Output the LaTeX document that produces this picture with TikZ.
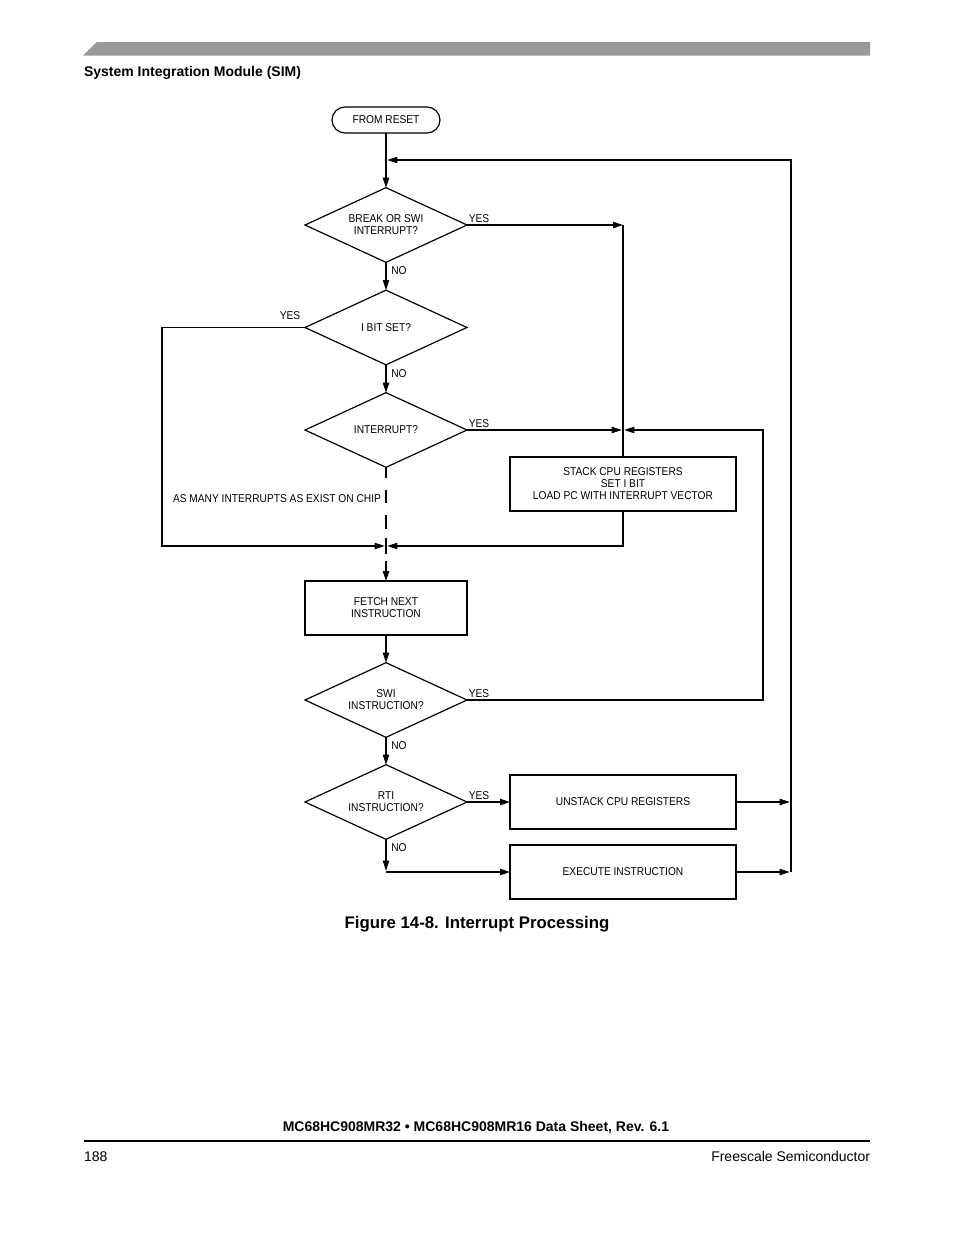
\documentclass[tikz,border=0pt]{standalone}
\usepackage{fontspec}
\setmainfont{Liberation Sans}
\newfontfamily\dfont[FakeStretch=0.9]{Liberation Sans}
\usetikzlibrary{shapes.geometric,arrows.meta}
\begin{document}
\begin{tikzpicture}[x=0.75pt,y=-0.75pt,
  every node/.style={inner sep=0pt,outer sep=0pt},
  dtext/.style={font={\fontsize{8.5pt}{9pt}\dfont},align=center},
  conn/.style={line width=0.8pt},
  arr/.style={conn,-{Triangle[length=7.5pt,width=4.8pt]}},
  dia/.style={diamond,aspect=2.16,draw,line width=0.9pt,minimum width=121.5pt,minimum height=56pt,dtext},
  box/.style={rectangle,draw,line width=1.1pt,dtext},
  lab/.style={dtext,anchor=base}
]
\fill[white] (0,0) rectangle (954,1235);
% header
\fill[black!40] (83,55.5) -- (97,42) -- (870,42) -- (870,55.5) -- cycle;
\node[anchor=base west,font={\bfseries\fontsize{10.5pt}{12pt}\selectfont}] (hdr) at (84,76) {System Integration Module (SIM)};
% footer
\node[anchor=base,font={\bfseries\fontsize{10.5pt}{12pt}\selectfont}] (ftitle) at (476,1131) {MC68HC908MR32 • MC68HC908MR16 Data Sheet, Rev. 6.1};
\draw[line width=1.5pt] (84,1141) -- (870,1141);
\node[anchor=base west,font={\fontsize{10.5pt}{12pt}\selectfont}] (page) at (84,1161) {188};
\node[anchor=base east,font={\fontsize{10.5pt}{12pt}\selectfont}] (comp) at (870,1161) {Freescale Semiconductor};
% caption
\node[anchor=base,font={\bfseries\fontsize{12.6pt}{14pt}\selectfont}] (cap) at (477,928) {Figure 14-8. Interrupt Processing};

% nodes
\node[box,rounded corners=9.75pt,line width=0.9pt,minimum width=81pt,minimum height=19.5pt] (reset) at (386,120) {FROM RESET};
\node[dia] (d1) at (386,225) {BREAK OR SWI\\INTERRUPT?};
\node[dia] (d2) at (386,327.5) {I BIT SET?};
\node[dia] (d3) at (386,430) {INTERRUPT?};
\node[box,minimum width=169.5pt,minimum height=40.5pt] (stack) at (623,484) {STACK CPU REGISTERS\\SET I BIT\\LOAD PC WITH INTERRUPT VECTOR};
\node[box,minimum width=121.5pt,minimum height=40.5pt] (fetch) at (386,608) {FETCH NEXT\\INSTRUCTION};
\node[dia] (d4) at (386,700) {SWI\\INSTRUCTION?};
\node[dia] (d5) at (386,802) {RTI\\INSTRUCTION?};
\node[box,minimum width=169.5pt,minimum height=40.5pt] (unstack) at (623,802) {UNSTACK CPU REGISTERS};
\node[box,minimum width=169.5pt,minimum height=40.5pt] (exec) at (623,872) {EXECUTE INSTRUCTION};

% coordinates
\coordinate (j1) at (386,160);
\coordinate (rt) at (791,160);
\coordinate (rb) at (791,872);
\coordinate (k1) at (623,225);
\coordinate (lt) at (162,327.5);
\coordinate (lb) at (162,546);
\coordinate (j2) at (386,546);
\coordinate (k2) at (623,430);
\coordinate (k3) at (763,430);
\coordinate (k4) at (763,700);
\coordinate (s1) at (623,546);
\coordinate (j3) at (386,872);

% connectors
\draw[arr] (reset.south) -- (d1.north);
\draw[arr,shorten >=1pt] (rb) -- (rt) -- (j1);
\draw[arr] (d1.east) -- (k1);
\draw[conn] (k1) -- (stack.north);
\draw[arr] (d1.south) -- (d2.north);
\draw[arr,shorten >=1pt] (d2.west) -- (lt) -- (lb) -- (j2);
\draw[arr] (d2.south) -- (d3.north);
\draw[arr,shorten >=1pt] (d3.east) -- (k2);
\draw[arr,shorten >=1pt] (d4.east) -- (k4) -- (k3) -- (k2);
\draw[arr,shorten >=1pt] (stack.south) -- (s1) -- (j2);
\draw[arr,dash pattern=on 8pt off 9pt on 10pt off 9pt on 10pt off 7pt on 12pt off 5pt] (d3.south) -- (fetch.north);
\draw[arr] (fetch.south) -- (d4.north);
\draw[arr] (d4.south) -- (d5.north);
\draw[arr] (d5.east) -- (unstack.west);
\draw[arr,shorten >=1pt] (d5.south) -- (j3);
\draw[arr] (j3) -- (exec.west);
\draw[arr,shorten >=1pt] (unstack.east) -- (unstack.east -| rt);
\draw[arr,shorten >=1pt] (exec.east) -- (exec.east -| rt);

% labels
\node[lab] (y1) at (479,222) {YES};
\node[lab] (n1) at (399,274) {NO};
\node[lab] (y2) at (290,319) {YES};
\node[lab] (n2) at (399,377) {NO};
\node[lab] (y3) at (479,427) {YES};
\node[dtext,anchor=base east] (many) at (381,502) {AS MANY INTERRUPTS AS EXIST ON CHIP};
\node[lab] (y4) at (479,697) {YES};
\node[lab] (n4) at (399,749) {NO};
\node[lab] (y5) at (479,799) {YES};
\node[lab] (n5) at (399,851) {NO};
\end{tikzpicture}
\end{document}
